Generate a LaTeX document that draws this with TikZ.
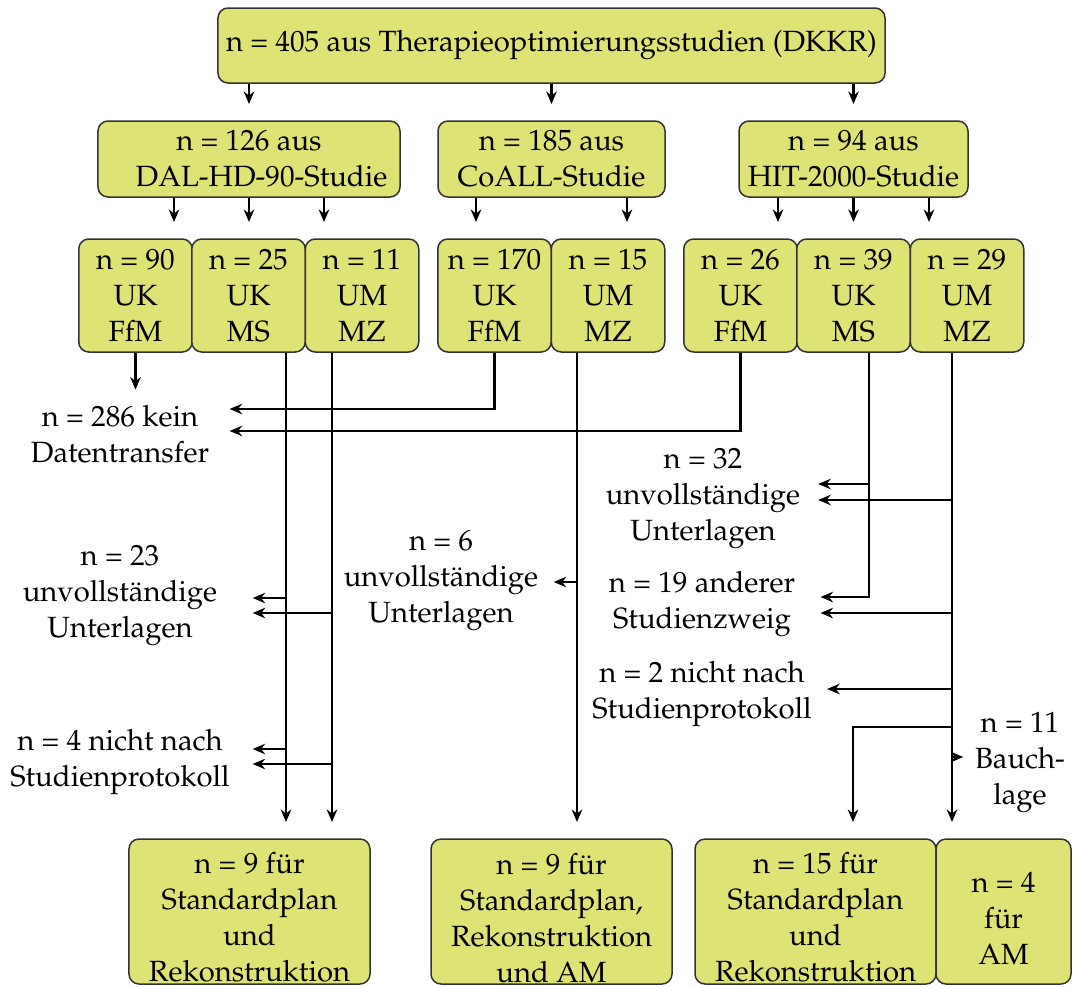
\documentclass[tikz,border=0pt]{standalone}
\usepackage[T1]{fontenc}
\usepackage{mathpazo}
\usetikzlibrary{arrows.meta}

\definecolor{boxfill}{RGB}{221,228,117}
\newcommand\oben{\rule{0pt}{13.3pt}}

\tikzset{
	kasten/.style={draw=black!80, fill=boxfill, rounded corners=4pt, align=center, inner sep=0pt, line width=0.6pt},
	zeile/.style={kasten, minimum height=30.4pt},
	klein/.style={kasten, minimum width=45.4pt, minimum height=45.2pt},
	gross/.style={kasten, minimum width=96.4pt, minimum height=58pt},
	lbl/.style={align=center, inner sep=6pt},
	arr/.style={->, line width=0.9pt},
	arrb/.style={arr, shorten >=6.5pt},
}

\begin{document}
\begin{tikzpicture}[x=0.4pt, y=-0.4pt, >={Stealth[length=5pt,width=4.2pt]}, font=\fontsize{11.7}{14.4}\selectfont]
	\useasboundingbox (0,0) rectangle (1073,987);

	% Kaesten
	\node[kasten, minimum width=266.8pt, minimum height=30pt] (top) at (551.5,45.5) {n = 405 aus Therapieoptimierungsstudien (DKKR)};

	\node[zeile, minimum width=120.8pt] (dal) at (249,159) {n = 126 aus\\\hspace*{10pt}DAL-HD-90-Studie};
	\node[zeile, minimum width=90.8pt] (coall) at (551.5,159) {n = 185 aus\\CoALL-Studie};
	\node[zeile, minimum width=91.6pt] (hit) at (853.5,159) {n = 94 aus\\HIT-2000-Studie};

	\node[klein] (k90) at (135.5,295.5) {n = 90\\UK\\FfM};
	\node[klein] (k25) at (248.5,295.5) {n = 25\\UK\\MS};
	\node[klein] (k11) at (362,295.5) {n = 11\\UM\\MZ};
	\node[klein] (k170) at (494.5,295.5) {n = 170\\UK\\FfM};
	\node[klein] (k15) at (608,295.5) {n = 15\\UM\\MZ};
	\node[klein] (k26) at (740.5,295.5) {n = 26\\UK\\FfM};
	\node[klein] (k39) at (853.5,295.5) {n = 39\\UK\\MS};
	\node[klein] (k29) at (967,295.5) {n = 29\\UM\\MZ};

	\node[gross] (ra) at (249.5,911.5) {\oben n = 9 f\"ur\\Standardplan\\und\\Rekonstruktion};
	\node[gross] (rb) at (551.5,911.5) {\oben n = 9 f\"ur\\Standardplan,\\Rekonstruktion\\und AM};
	\node[gross] (rc) at (815.5,911.5) {\oben n = 15 f\"ur\\Standardplan\\und\\Rekonstruktion};
	\node[gross, minimum width=54pt] (rd) at (1003.5,911.5) {\oben n = 4\\f\"ur\\AM};

	% Ausschluesse
	\node[lbl, inner xsep=8pt] (dt) at (120,434) {n = 286 kein\\Datentransfer};
	\node[lbl, inner xsep=14pt] (u23) at (120,595) {n = 23\\unvollst\"andige\\Unterlagen};
	\node[lbl, inner xsep=9pt] (p4) at (120,762) {n = 4 nicht nach\\Studienprotokoll};
	\node[lbl] (u6) at (441,580) {n = 6\\unvollst\"andige\\Unterlagen};
	\node[lbl, inner xsep=7pt] (u32) at (703,498) {n = 32\\unvollst\"andige\\Unterlagen};
	\node[lbl, inner xsep=10pt] (a19) at (702,604) {n = 19 anderer\\Studienzweig};
	\node[lbl] (p2) at (702,694) {n = 2 nicht nach\\Studienprotokoll};
	\node[lbl, inner xsep=4.5pt] (bl) at (1020,762) {n = 11\\Bauch-\\lage};

	% Pfeile oben
	\draw[arrb] (top.south -| dal.north) -- (dal.north);
	\draw[arrb] (top.south -| coall.north) -- (coall.north);
	\draw[arrb] (top.south -| hit.north) -- (hit.north);

	\draw[arrb] ([xshift=-30pt]dal.south) -- ([xshift=-30pt]dal.south |- k90.north);
	\draw[arrb] (dal.south) -- (dal.south |- k25.north);
	\draw[arrb] ([xshift=30pt]dal.south) -- ([xshift=30pt]dal.south |- k11.north);
	\draw[arrb] ([xshift=-30.2pt]coall.south) -- ([xshift=-30.2pt]coall.south |- k170.north);
	\draw[arrb] ([xshift=30.2pt]coall.south) -- ([xshift=30.2pt]coall.south |- k15.north);
	\draw[arrb] ([xshift=-30.2pt]hit.south) -- ([xshift=-30.2pt]hit.south |- k26.north);
	\draw[arrb] (hit.south) -- (hit.south |- k39.north);
	\draw[arrb] ([xshift=30.2pt]hit.south) -- ([xshift=30.2pt]hit.south |- k29.north);

	% kein Datentransfer
	\draw[arr] (k90.south) -- (k90.south |- dt.north);
	\draw[arr] (k170.south) |- (dt.east |- 0,409);
	\draw[arr] (k26.south) |- (dt.east |- 0,431);

	% DAL-HD-90
	\draw[arrb] ([xshift=15pt]k25.south) -- ([xshift=15pt]k25.south |- ra.north);
	\draw[arrb] ([xshift=-12pt]k11.south) -- ([xshift=-12pt]k11.south |- ra.north);
	\draw[arr] ([xshift=15pt]k25.south |- 0,598) -- (u23.east |- 0,598);
	\draw[arr] ([xshift=-12pt]k11.south |- 0,613) -- (u23.east |- 0,613);
	\draw[arr] ([xshift=15pt]k25.south |- 0,749) -- (p4.east |- 0,749);
	\draw[arr] ([xshift=-12pt]k11.south |- 0,764) -- (p4.east |- 0,764);

	% CoALL
	\draw[arrb] ([xshift=-12.4pt]k15.south) -- ([xshift=-12.4pt]k15.south |- rb.north);
	\draw[arr] ([xshift=-12.4pt]k15.south |- 0,582) -- (u6.east |- 0,582);

	% HIT-2000
	\draw[arr] ([xshift=6.2pt]k39.south) |- (a19.east |- 0,597);
	\draw[arr] ([xshift=6.2pt]k39.south |- 0,484) -- (u32.east |- 0,484);
	\draw[arrb] ([xshift=-6pt]k29.south) -- ([xshift=-6pt]k29.south |- rd.north);
	\draw[arr] ([xshift=-6pt]k29.south |- 0,500) -- (u32.east |- 0,500);
	\draw[arr] ([xshift=-6pt]k29.south |- 0,613) -- (a19.east |- 0,613);
	\draw[arr] ([xshift=-6pt]k29.south |- 0,689) -- (p2.east |- 0,689);
	\draw[arrb] ([xshift=-6pt]k29.south |- 0,727) -| ([xshift=15pt]rc.north);
	\draw[arr] ([xshift=-6pt]k29.south |- 0,757) -- (bl.west |- 0,757);
\end{tikzpicture}
\end{document}
